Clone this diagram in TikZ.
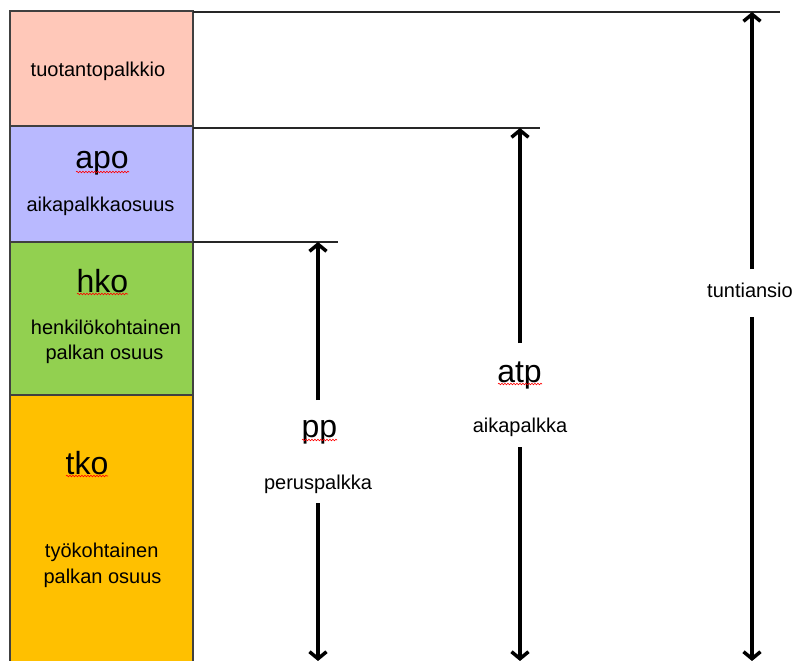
\documentclass[tikz,border=0pt]{standalone}
\usepackage{fontspec}
\setmainfont{Liberation Sans}
\usetikzlibrary{arrows.meta,decorations.pathmorphing}

\definecolor{barpink}{HTML}{FFC8B9}
\definecolor{barblue}{HTML}{B9B9FF}
\definecolor{bargreen}{HTML}{92D050}
\definecolor{barorange}{HTML}{FFC000}
\definecolor{edgegray}{HTML}{404040}

\tikzset{
  lbl/.style={font=\fontsize{20bp}{25bp}\selectfont, inner sep=0pt, anchor=base},
  biglbl/.style={font=\fontsize{32bp}{38bp}\selectfont, inner sep=0pt, anchor=base},
  part/.style={draw=edgegray, line width=1.4bp},
  level/.style={draw=black!85, line width=1.2bp},
  span/.style={line width=3.5bp, -{Straight Barb[length=7bp,width=17bp]}},
  spell/.style={draw=red, line width=0.6bp, decorate,
    decoration={snake, segment length=3bp, amplitude=0.8bp}}
}

\begin{document}
\begin{tikzpicture}[x=1bp,y=-1bp]
\useasboundingbox (0,0) rectangle (793,661);
\clip (0,0) rectangle (793,661);

% stacked bar of wage components
\fill[barpink]   (10,11)  rectangle (193,126);
\fill[barblue]   (10,126) rectangle (193,242);
\fill[bargreen]  (10,242) rectangle (193,395);
\fill[barorange] (10,395) rectangle (193,680);
\draw[part] (10,680) -- (10,11) -- (193,11) -- (193,680);
\draw[part] (10,126) -- (193,126);
\draw[part] (10,242) -- (193,242);
\draw[part] (10,395) -- (193,395);

% texts inside the bar
\node[lbl]    (tuot) at (98,77)    {tuotantopalkkio};
\node[biglbl] (apo)  at (102,168)  {apo};
\node[lbl]    (apot) at (100.5,211){aikapalkkaosuus};
\node[biglbl] (hko)  at (102.5,292){hko};
\node[lbl]    (hkoa) at (106,334.5){henkilökohtainen};
\node[lbl]    (hkob) at (104.5,359){palkan osuus};
\node[biglbl] (tko)  at (87,474.5) {tko};
\node[lbl]    (tkoa) at (101.7,557.5){työkohtainen};
\node[lbl]    (tkob) at (102.5,583){palkan osuus};

% level lines
\coordinate (l0a) at (193,12);  \coordinate (l0b) at (780,12);
\coordinate (l1a) at (193,128); \coordinate (l1b) at (540,128);
\coordinate (l2a) at (193,242); \coordinate (l2b) at (338,242);
\draw[level] (l0a) -- (l0b);
\draw[level] (l1a) -- (l1b);
\draw[level] (l2a) -- (l2b);

% peruspalkka
\coordinate (ppTop) at (318,242);
\coordinate (ppUp)  at (318,400);
\coordinate (ppLo)  at (318,503);
\coordinate (ppBot) at (318,661);
\node[biglbl] (pp)  at (319.5,437) {pp};
\node[lbl]    (ppt) at (318,489)   {peruspalkka};
\draw[span] (ppUp) -- (ppTop);
\draw[span] (ppLo) -- (ppBot);

% aikapalkka
\coordinate (atTop) at (520,128);
\coordinate (atUp)  at (520,343);
\coordinate (atLo)  at (520,447);
\coordinate (atBot) at (520,661);
\node[biglbl] (atp)  at (519.5,382) {atp};
\node[lbl]    (atpt) at (520,432)   {aikapalkka};
\draw[span] (atUp) -- (atTop);
\draw[span] (atLo) -- (atBot);

% tuntiansio
\coordinate (tuTop) at (752,12);
\coordinate (tuUp)  at (752,269);
\coordinate (tuLo)  at (752,317);
\coordinate (tuBot) at (752,661);
\node[lbl] (tun) at (750,297) {tuntiansio};
\draw[span] (tuUp) -- (tuTop);
\draw[span] (tuLo) -- (tuBot);

% spell-check underlines
\draw[spell] (76,172) -- (129,172);
\draw[spell] (77,294) -- (128,294);
\draw[spell] (66,476) -- (108,476);
\draw[spell] (302,440) -- (337,440);
\draw[spell] (498,384) -- (542,384);
\end{tikzpicture}
\end{document}
